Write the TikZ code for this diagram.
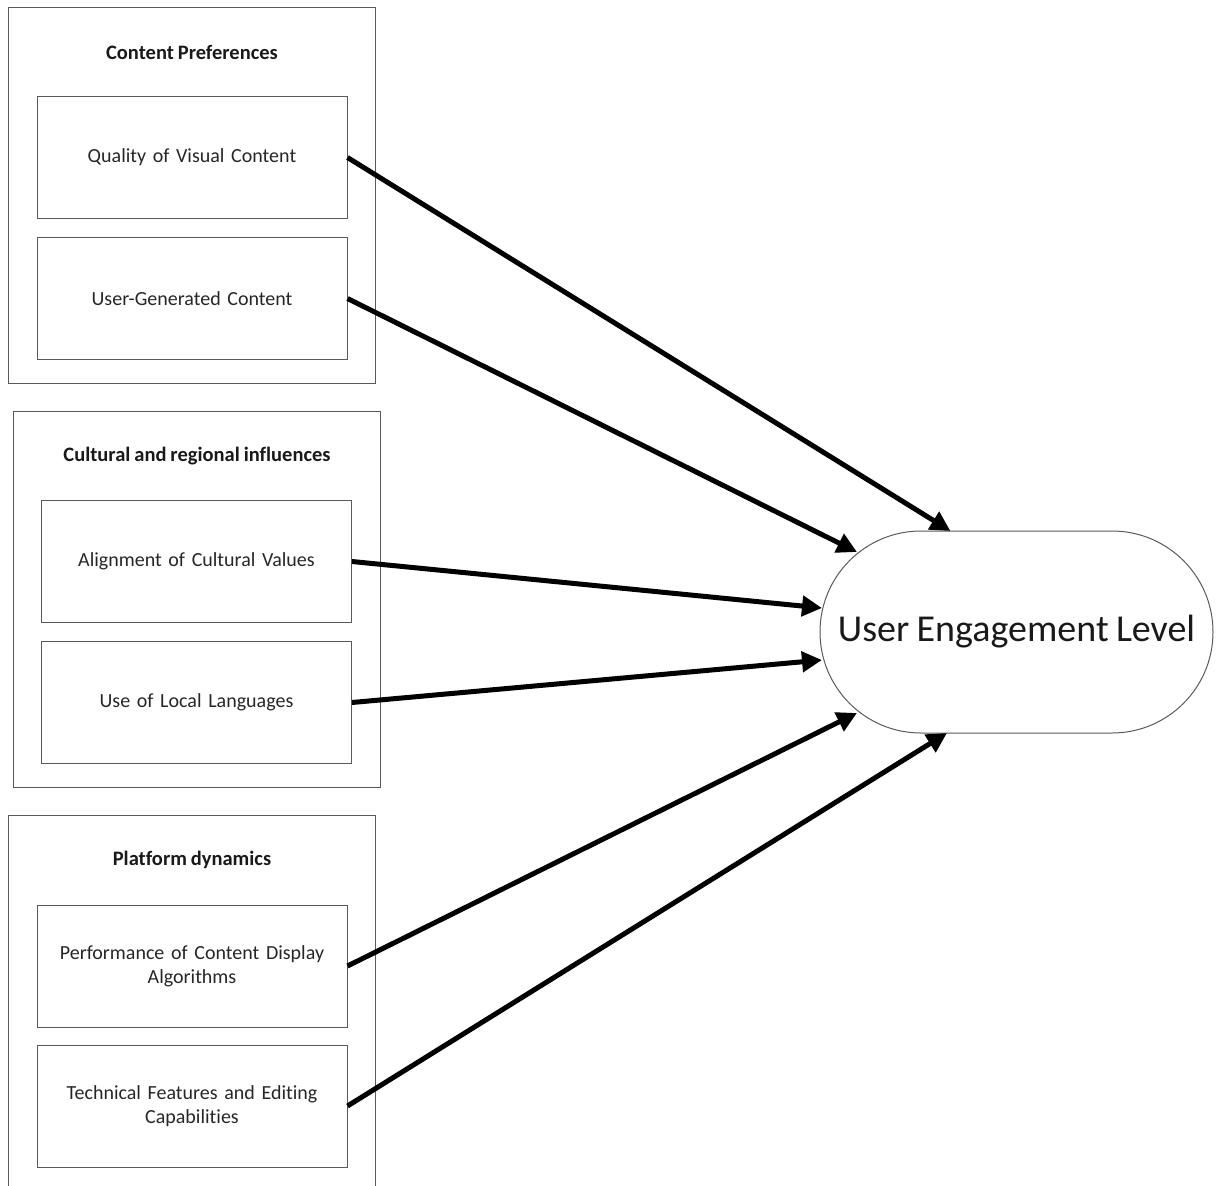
\documentclass[tikz,border=0pt]{standalone}
\usepackage{fontspec}
\setmainfont{Carlito}[Ligatures=NoCommon, WordSpace=0.85]
\usetikzlibrary{arrows.meta,positioning,calc,shapes.misc}

\begin{document}
\begin{tikzpicture}[
    x=1pt, y=-1pt,
    group/.style={draw=black!65, line width=1pt, minimum width=367pt, minimum height=376pt, inner sep=0pt},
    group title/.style={font=\fontsize{20.5}{24}\selectfont\bfseries, text=black!90},
    factor/.style={draw=black!65, line width=1pt, minimum width=310pt, minimum height=122pt, inner sep=0pt, align=center, text width=300pt, font=\fontsize{20}{24}\selectfont, text=black!85},
    outcome/.style={rounded rectangle, draw=black!65, line width=1pt, minimum width=393pt, minimum height=202pt, inner sep=0pt, font=\fontsize{38}{42}\selectfont, text=black!90},
    link/.style={line width=5pt, -{Triangle[length=20pt,width=20pt]}},
]
\useasboundingbox (0,0) rectangle (1216,1186);

  % Content Preferences
  \node[group] (cp) at (191.5,195.5) {};
  \node[group title] (cpt) at (192,52) {Content Preferences};
  \node[factor] (qvc) at (192,157.5) {Quality of Visual Content};
  \node[factor, below=18pt of qvc] (ugc) {User-Generated Content};

  % Cultural and regional influences
  \node[group] (cr) at (197,599) {};
  \node[group title] (crt) at (197,456) {Cultural and regional influences};
  \node[factor] (acv) at (196.5,561.5) {Alignment of Cultural Values};
  \node[factor, below=18pt of acv] (ull) {Use of Local Languages};

  % Platform dynamics
  \node[group] (pd) at (191.5,1003) {};
  \node[group title] (pdt) at (192,860) {Platform dynamics};
  \node[factor] (pcd) at (192,966) {Performance of Content Display\\Algorithms};
  \node[factor, below=17pt of pcd] (tfe) {Technical Features and Editing\\Capabilities};

  % Outcome
  \node[outcome] (uel) at (1016.5,632) {User Engagement Level};

  \coordinate (e1) at ($(uel.center)+(-66,-101)$);
  \coordinate (e2) at ($(uel.center)+(-159.5,-80)$);
  \coordinate (e3) at ($(uel.center)+(-194.5,-24)$);
  \coordinate (e4) at ($(uel.center)+(-194.5,28)$);
  \coordinate (e5) at ($(uel.center)+(-159.5,81)$);
  \coordinate (e6) at ($(uel.center)+(-69.5,101)$);

  % Links
  \draw[link] (qvc.east) -- (e1);
  \draw[link] (ugc.east) -- (e2);
  \draw[link] (acv.east) -- (e3);
  \draw[link] (ull.east) -- (e4);
  \draw[link] (pcd.east) -- (e5);
  \draw[link] (tfe.east) -- (e6);
\end{tikzpicture}
\end{document}
